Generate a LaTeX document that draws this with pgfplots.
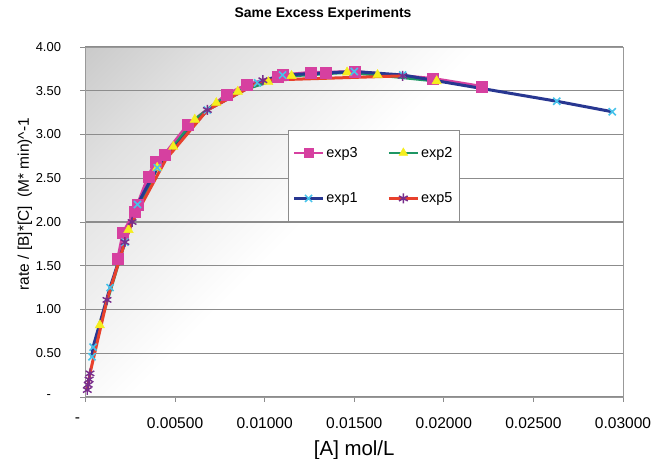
\documentclass[border=0pt]{standalone}
\usepackage{fontspec}
\setmainfont{Liberation Sans}
\usepackage{pgfplots}
\pgfplotsset{compat=1.18}
\definecolor{cPink}{RGB}{214,64,160}
\definecolor{cGreen}{RGB}{30,150,100}
\definecolor{cYellow}{RGB}{245,238,30}
\definecolor{cNavy}{RGB}{40,55,145}
\definecolor{cCyan}{RGB}{70,195,235}
\definecolor{cRed}{RGB}{232,65,44}
\definecolor{cPurple}{RGB}{120,45,140}
\definecolor{cGrid}{RGB}{140,140,140}
\pgfdeclareverticalshading{bgshade}{100bp}{color(0bp)=(white); color(54bp)=(white); color(75bp)=(black!12); color(100bp)=(black!33)}
\begin{document}
\begin{tikzpicture}
\begin{axis}[
  name=ax,
  width=537.5bp, height=350bp, scale only axis,
  xmin=0, xmax=0.03, ymin=0, ymax=4,
  scaled ticks=false,
  xtick={0,0.005,0.01,0.015,0.02,0.025,0.03},
  xticklabels={-\hspace*{16bp},0.00500,0.01000,0.01500,0.02000,0.02500,0.03000},
  ytick={0,0.5,1,1.5,2,2.5,3,3.5,4},
  yticklabels={-\hspace*{10bp},0.50,1.00,1.50,2.00,2.50,3.00,3.50,4.00},
  x tick label style={font=\fontsize{15.6}{17}\selectfont, yshift=-12bp},
  y tick label style={font=\fontsize{13}{15}\selectfont, xshift=-16bp},
  tick align=outside, major tick length=5bp,
  tick style={color=cGrid, line width=0.8bp},
  xtick pos=bottom, ytick pos=left,
  ymajorgrids, grid style={color=cGrid, line width=1.3bp},
  axis line style={color=black!40, line width=0.8bp},
  axis background/.style={shade, shading=bgshade, shading angle=45},
  xlabel={[A] mol/L},
  xlabel style={font=\fontsize{20.5}{22}\selectfont, at={(rel axis cs:0.5,-0.152)}, anchor=center},
  ylabel={rate / [B]*[C]\ \ (M* min)\^{}-1},
  ylabel style={font=\fontsize{15.5}{18}\selectfont, at={(rel axis cs:-0.1126,0.551)}, anchor=center, rotate=0},
  title={\bfseries Same Excess Experiments},
  title style={font=\fontsize{14}{16}\selectfont, at={(rel axis cs:0.442,1.077)}, anchor=center},
  legend columns=2,
  legend style={at={(rel axis cs:0.376,0.763)}, anchor=north west, draw=black!45, fill=white,
    font=\fontsize{14.5}{16}\selectfont, inner xsep=5bp, inner ysep=15bp, row sep=30bp,
    /tikz/every even column/.append style={column sep=28bp}},
  legend image code/.code={\draw[mark repeat=2,mark phase=2,#1] plot coordinates {(0bp,0bp) (14.5bp,0bp) (29bp,0bp)};},
  clip=false,
]
\addlegendimage{cPink, line width=2.5bp, mark=square*, mark size=4.5bp, mark options={fill=cPink, draw=cPink, line width=0.5bp}}
\addlegendentry{exp3}
\addlegendimage{cGreen, line width=2.5bp, mark=triangle*, mark size=5bp, mark options={fill=cYellow, draw=cYellow, line width=0.5bp}}
\addlegendentry{exp2}
\addlegendimage{cNavy, line width=2.5bp, mark=x, mark size=5bp, mark options={draw=cCyan, line width=1.5bp}}
\addlegendentry{exp1}
\addlegendimage{cRed, line width=2.5bp, mark=asterisk, mark size=5bp, mark options={draw=cPurple, line width=1.5bp}}
\addlegendentry{exp5}

% ---- lines ----
\addplot[forget plot, cPink, line width=3bp, no marks] coordinates {
(0.0018,1.58) (0.0021,1.88) (0.00276,2.12) (0.0029,2.2) (0.0035,2.52) (0.0039,2.69)
(0.0044,2.77) (0.0057,3.11) (0.0079,3.46) (0.0090,3.57) (0.0107,3.66) (0.0110,3.68)
(0.01255,3.71) (0.0134,3.71) (0.0150,3.72) (0.0194,3.64) (0.0221,3.55)};
\addplot[forget plot, cGreen, line width=3bp, no marks] coordinates {
(0.0008,0.82) (0.0024,1.91) (0.0040,2.62) (0.0049,2.86) (0.0061,3.17) (0.0073,3.36)
(0.0085,3.49) (0.0102,3.60) (0.0115,3.67) (0.0146,3.71) (0.0163,3.68) (0.0196,3.61)};
\addplot[forget plot, cNavy, line width=3bp, no marks] coordinates {
(0.00036,0.46) (0.00042,0.57) (0.00137,1.25) (0.0022,1.77) (0.0029,2.2) (0.0040,2.62)
(0.0068,3.28) (0.0096,3.59) (0.0110,3.68) (0.0150,3.72) (0.0177,3.68) (0.0263,3.38) (0.0294,3.26)};
\addplot[forget plot, cRed, line width=3bp, no marks] coordinates {
(0.0001,0.08) (0.00015,0.14) (0.0002,0.2) (0.00025,0.27) (0.0012,1.11) (0.0022,1.77)
(0.0026,2.0) (0.0045,2.72) (0.0068,3.28) (0.0099,3.62) (0.0177,3.67)};

% ---- markers ----
\addplot[forget plot, only marks, mark=square*, mark size=5.5bp, mark options={fill=cPink, draw=cPink}] coordinates {
(0.0018,1.58) (0.0021,1.88) (0.00276,2.12) (0.0029,2.2) (0.0035,2.52) (0.0039,2.69)
(0.0044,2.77) (0.0057,3.11) (0.0079,3.46) (0.0090,3.57) (0.0107,3.66) (0.0110,3.68)
(0.01255,3.71) (0.0134,3.71) (0.0150,3.72) (0.0194,3.64) (0.0221,3.55)};
\addplot[forget plot, only marks, mark=triangle*, mark size=5.5bp, mark options={fill=cYellow, draw=cYellow}] coordinates {
(0.0008,0.82) (0.0024,1.91) (0.0040,2.62) (0.0049,2.86) (0.0061,3.17) (0.0073,3.36)
(0.0085,3.49) (0.0102,3.60) (0.0115,3.67) (0.0146,3.71) (0.0163,3.68) (0.0196,3.61)};
\addplot[forget plot, only marks, mark=x, mark size=5bp, mark options={draw=cCyan, line width=1.6bp}] coordinates {
(0.00036,0.46) (0.00042,0.57) (0.00137,1.25) (0.0022,1.77) (0.0029,2.2) (0.0040,2.62)
(0.0068,3.28) (0.0096,3.59) (0.0110,3.68) (0.0150,3.72) (0.0177,3.68) (0.0263,3.38) (0.0294,3.26)};
\addplot[forget plot, only marks, mark=asterisk, mark size=5bp, mark options={draw=cPurple, line width=1.4bp}] coordinates {
(0.0001,0.08) (0.00015,0.14) (0.0002,0.2) (0.00025,0.27) (0.0012,1.11) (0.0022,1.77)
(0.0026,2.0) (0.0068,3.28) (0.0099,3.62) (0.0177,3.67)};
\end{axis}
\pgfresetboundingbox
\path[use as bounding box] (ax.south west) ++(-85.5bp,-62bp) rectangle ++(651bp,459bp);
\end{tikzpicture}
\end{document}
